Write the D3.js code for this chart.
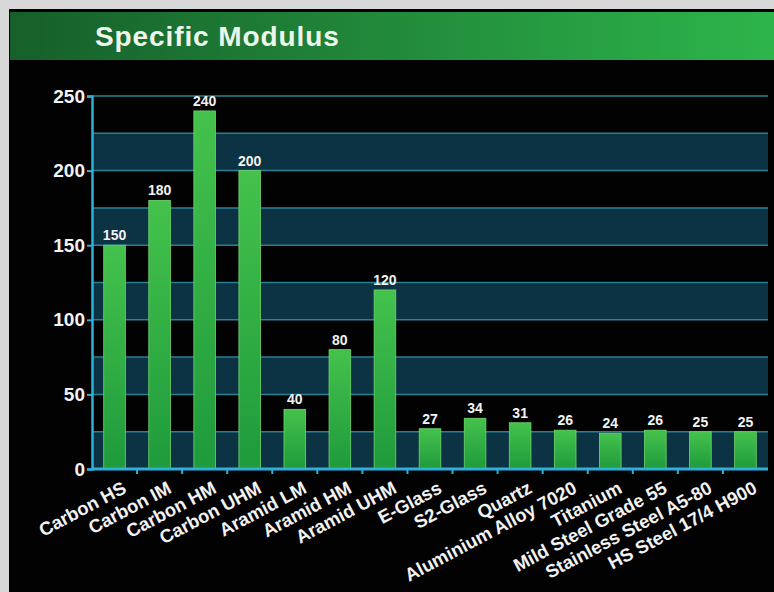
<!DOCTYPE html>
<html>
<head>
<meta charset="utf-8">
<script src="https://cdn.jsdelivr.net/npm/d3@7"></script>
<style>
  body { margin: 0; background: #fff; }
  svg { display: block; font-family: "Liberation Sans", Arial, sans-serif; }
</style>
</head>
<body>
<div id="viz"></div>
<script>
const categories = ["Carbon HS", "Carbon IM", "Carbon HM", "Carbon UHM", "Aramid LM", "Aramid HM", "Aramid UHM",
  "E-Glass", "S2-Glass", "Quartz", "Aluminium Alloy 7020", "Titanium", "Mild Steel Grade 55",
  "Stainless Steel A5-80", "HS Steel 17/4 H900"];
const values = [150, 180, 240, 200, 40, 80, 120, 27, 34, 31, 26, 24, 26, 25, 25];
const yTicks = [0, 50, 100, 150, 200, 250];
const bands = [[0, 25], [50, 75], [100, 125], [150, 175], [200, 225]];

const W = 774, H = 592;
const margin = {top: 96, right: 6, bottom: 123, left: 92};

const svg = d3.select("#viz").append("svg")
  .attr("width", W).attr("height", H);

const defs = svg.append("defs");
const titleGrad = defs.append("linearGradient").attr("id", "titleGrad");
titleGrad.append("stop").attr("offset", "0%").attr("stop-color", "#165f2a");
titleGrad.append("stop").attr("offset", "100%").attr("stop-color", "#2db54b");
const barGrad = defs.append("linearGradient").attr("id", "barGrad")
  .attr("x1", 0).attr("y1", 0).attr("x2", 0).attr("y2", 1);
barGrad.append("stop").attr("offset", "0%").attr("stop-color", "#44c24c");
barGrad.append("stop").attr("offset", "100%").attr("stop-color", "#1f9a3c");

// frame
svg.append("rect").attr("x", 0).attr("y", 0).attr("width", W).attr("height", H).attr("fill", "#d8d8d8");
svg.append("rect").attr("x", 9).attr("y", 9).attr("width", W - 9).attr("height", H - 9).attr("fill", "#020203");
svg.append("rect").attr("x", 10).attr("y", 12).attr("width", W - 10).attr("height", 48).attr("fill", "url(#titleGrad)");
svg.append("text")
  .attr("x", 95).attr("y", 46)
  .attr("fill", "#eef5ea")
  .style("font-size", "28px").style("font-weight", "bold").style("letter-spacing", "0.9px")
  .text("Specific Modulus");

const width = W - margin.left - margin.right;
const height = H - margin.top - margin.bottom;
const g = svg.append("g").attr("transform", `translate(${margin.left},${margin.top})`);

const x = d3.scaleBand().domain(categories).range([0, width]).paddingInner(0.52).paddingOuter(0.26);
const y = d3.scaleLinear().domain([0, 250]).range([height, 0]);

// alternating bands
g.selectAll(".band").data(bands).join("rect")
  .attr("x", 0).attr("width", width)
  .attr("y", d => y(d[1])).attr("height", d => y(d[0]) - y(d[1]))
  .attr("fill", "#0c3343");

// grid lines
g.selectAll(".grid").data(d3.range(25, 251, 25)).join("line")
  .attr("x1", 0).attr("x2", width)
  .attr("y1", d => y(d)).attr("y2", d => y(d))
  .attr("stroke", "#2a7f95").attr("stroke-width", 1.5);

// bars
g.selectAll(".bar").data(values).join("rect")
  .attr("x", (d, i) => x(categories[i]))
  .attr("width", x.bandwidth())
  .attr("y", d => y(d))
  .attr("height", d => height - y(d))
  .attr("fill", "url(#barGrad)")
  .attr("stroke", "#6fd66a").attr("stroke-width", 0.8);

g.selectAll(".val").data(values).join("text")
  .attr("x", (d, i) => x(categories[i]) + x.bandwidth() / 2)
  .attr("y", d => y(d) - 5)
  .attr("text-anchor", "middle")
  .attr("fill", "#f2f2f2")
  .style("font-size", "14px").style("font-weight", "bold")
  .text(d => d);

// y axis
const yAxis = g.append("g").call(d3.axisLeft(y).tickValues(yTicks).tickSize(5).tickPadding(2));
yAxis.select(".domain").attr("stroke", "#2fb0d8").attr("stroke-width", 2.5);
yAxis.selectAll(".tick line").attr("stroke", "#2fb0d8").attr("stroke-width", 2);
yAxis.selectAll(".tick text").attr("fill", "#f2f2f2")
  .style("font-size", "19px").style("font-weight", "bold").style("font-family", "Liberation Sans, Arial, sans-serif");

// x axis
const xAxisG = g.append("g").attr("transform", `translate(0,${height})`);
xAxisG.append("line").attr("x1", 0).attr("x2", width)
  .attr("stroke", "#2fb0d8").attr("stroke-width", 3);
xAxisG.selectAll(".xt").data(categories.slice(1)).join("line")
  .attr("x1", d => x(d) - x.step() * x.paddingInner() / 2)
  .attr("x2", d => x(d) - x.step() * x.paddingInner() / 2)
  .attr("y1", 0).attr("y2", 5)
  .attr("stroke", "#2fb0d8").attr("stroke-width", 2);
xAxisG.selectAll(".xl").data(categories).join("text")
  .attr("transform", d => `translate(${x(d) + x.bandwidth() / 2 + 13},${23}) rotate(-28)`)
  .attr("text-anchor", "end")
  .attr("fill", "#f2f2f2")
  .style("font-size", "18.5px").style("font-weight", "bold")
  .text(d => d);
</script>
</body>
</html>
